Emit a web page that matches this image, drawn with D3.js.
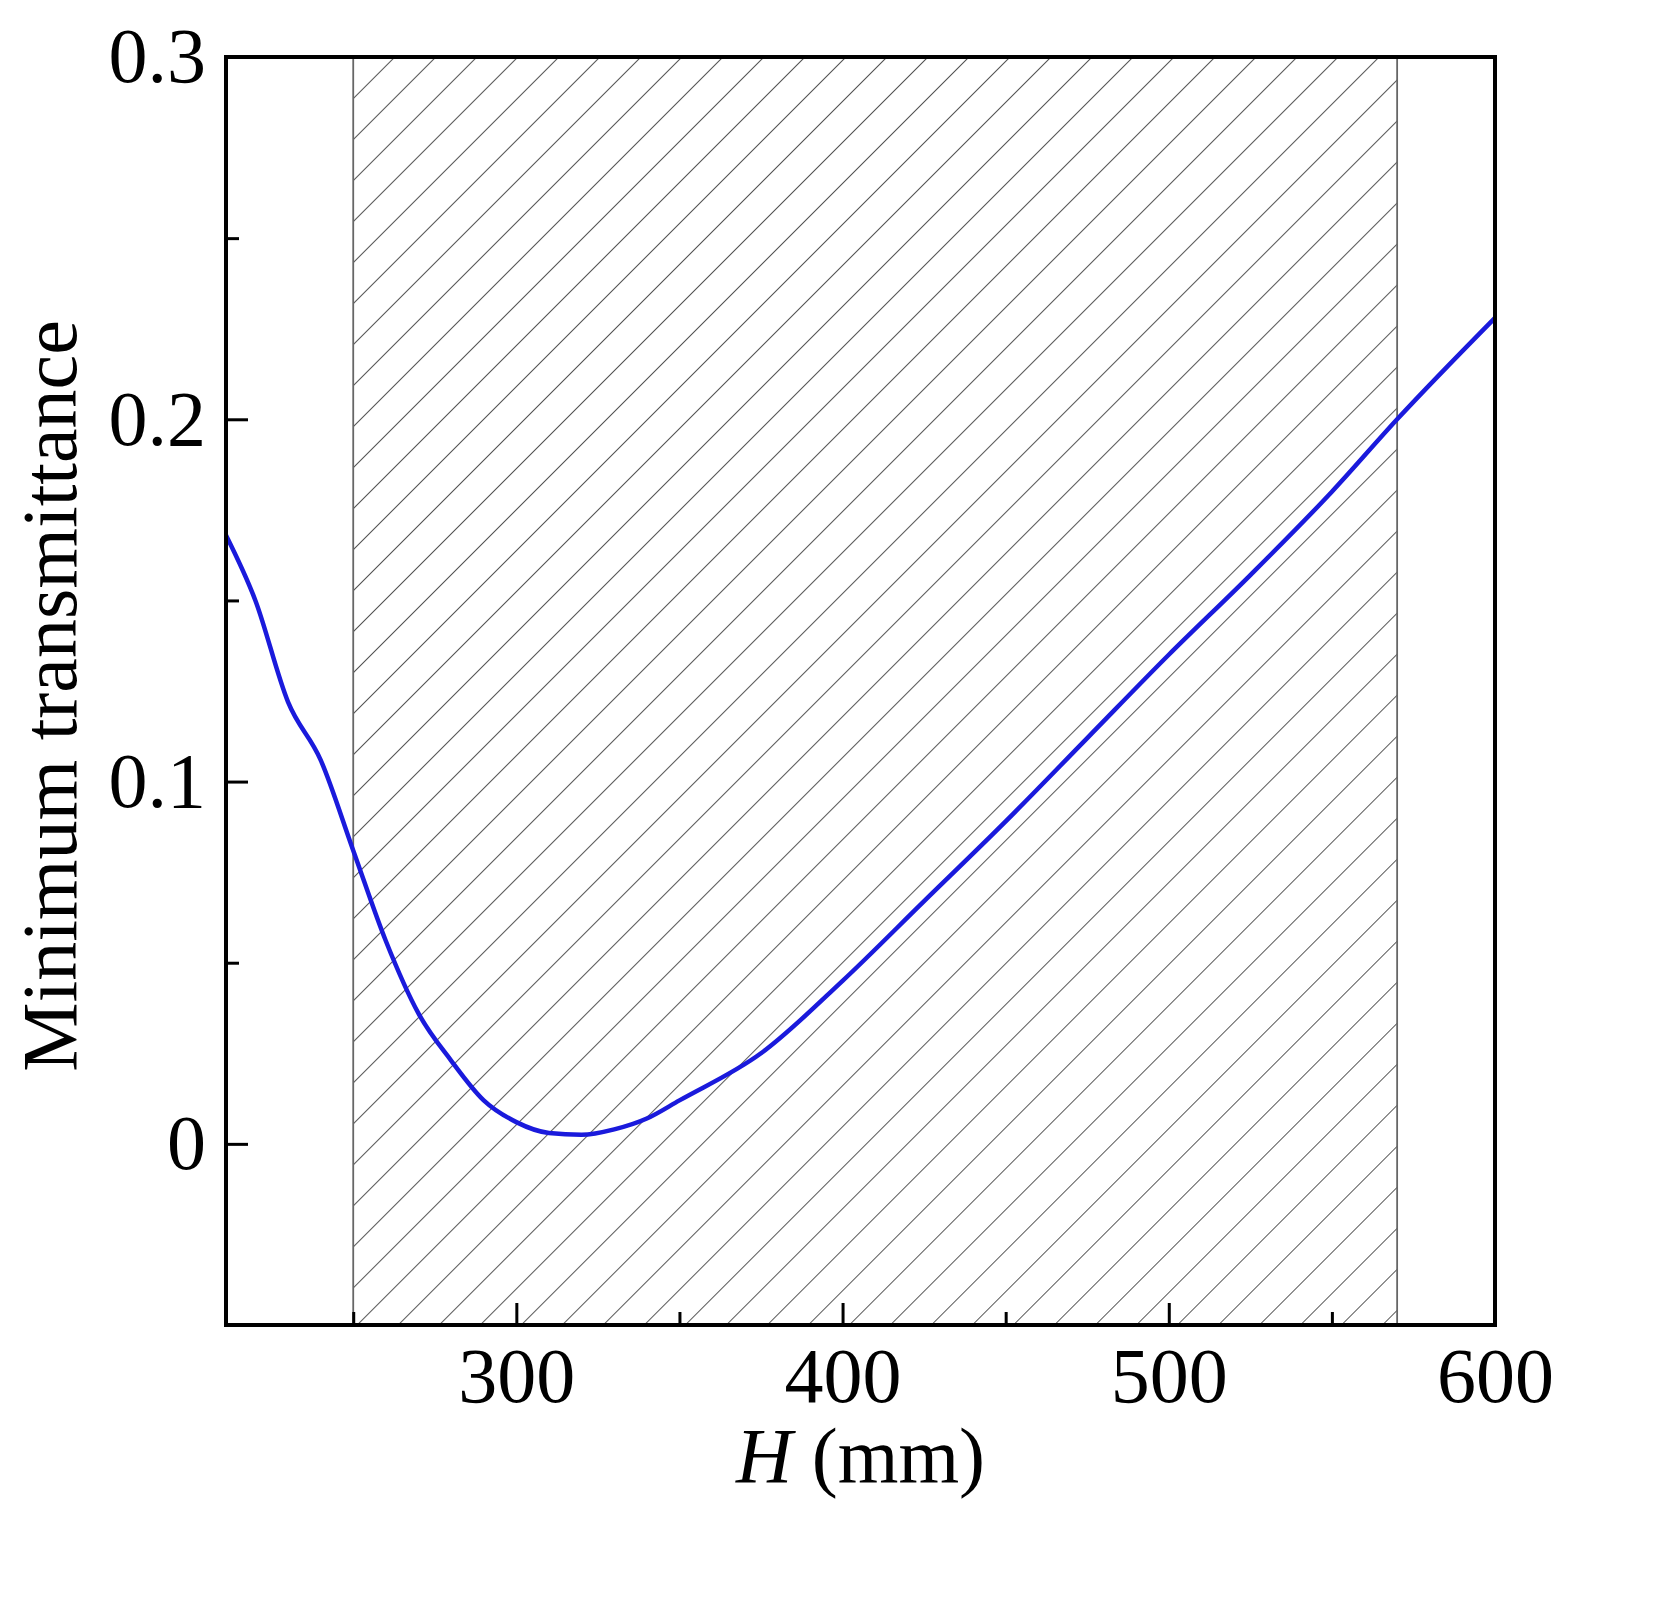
<!DOCTYPE html>
<html><head><meta charset="utf-8">
<script src="https://cdn.jsdelivr.net/npm/d3@7"></script>
<style>body{margin:0;background:#fff}</style></head>
<body><svg id="c" width="1662" height="1608"></svg>
<script>
const hVals=[211,220,230,240,250,260,270,280,290,300,310,320,330,340,350,375,400,425,450,475,500,525,550,570,600];
const tVals=[0.168,0.150,0.122,0.106,0.081,0.056,0.036,0.023,0.012,0.006,0.003,0.0025,0.004,0.007,0.012,0.025,0.045,0.067,0.089,0.112,0.135,0.157,0.180,0.200,0.228];
const bandRange=[250,570];
const xTicks=[300,400,500,600], xMinor=[250,350,450,550];
const yTicks=[0,0.1,0.2,0.3], yMinor=[0.05,0.15,0.25];

const svg=d3.select("#c");
const L=226,R=1495,T=57,B=1325;
const x=d3.scaleLinear().domain([211,600]).range([L,R]);
const y=d3.scaleLinear().domain([-0.05,0.3]).range([B,T]);
const font="Liberation Serif, Times New Roman, serif";

const defs=svg.append("defs");
const p=defs.append("pattern").attr("id","hatch").attr("patternUnits","userSpaceOnUse")
 .attr("width",29).attr("height",29).attr("patternTransform","rotate(45)");
p.append("line").attr("x1",0).attr("y1",0).attr("x2",0).attr("y2",29).attr("stroke","#444").attr("stroke-width",1.8);

svg.append("rect").attr("x",x(bandRange[0])).attr("y",T).attr("width",x(bandRange[1])-x(bandRange[0])).attr("height",B-T).attr("fill","url(#hatch)");
bandRange.forEach(v=>svg.append("line").attr("x1",x(v)).attr("x2",x(v)).attr("y1",T).attr("y2",B).attr("stroke","#666").attr("stroke-width",1.8));

svg.append("path").datum(hVals.map((h,i)=>[h,tVals[i]]))
 .attr("d",d3.line().x(d=>x(d[0])).y(d=>y(d[1])).curve(d3.curveMonotoneX))
 .attr("fill","none").attr("stroke","#1a1adc").attr("stroke-width",4.5);

svg.append("rect").attr("x",L).attr("y",T).attr("width",R-L).attr("height",B-T).attr("fill","none").attr("stroke","#000").attr("stroke-width",4);

const xa=svg.append("g").attr("transform",`translate(0,${B})`).call(d3.axisBottom(x).tickValues(xTicks).tickSize(-22).tickPadding(22).tickFormat(d3.format("d")));
const xm=svg.append("g").attr("transform",`translate(0,${B})`).call(d3.axisBottom(x).tickValues(xMinor).tickSize(-13).tickFormat(""));
const ya=svg.append("g").attr("transform",`translate(${L},0)`).call(d3.axisLeft(y).tickValues(yTicks).tickSize(-22).tickPadding(20).tickFormat(d=>d===0?"0":d3.format(".1f")(d)));
const ym=svg.append("g").attr("transform",`translate(${L},0)`).call(d3.axisLeft(y).tickValues(yMinor).tickSize(-13).tickFormat(""));
[xa,xm,ya,ym].forEach(g=>{g.select(".domain").remove();g.selectAll("line").attr("stroke","#000").attr("stroke-width",3);
 g.selectAll("text").attr("font-family",font).attr("font-size",78).attr("fill","#000");});

svg.append("text").attr("x",(L+R)/2).attr("y",1482).attr("text-anchor","middle").attr("font-family",font).attr("font-size",78)
 .html('<tspan font-style="italic">H</tspan> (mm)');
svg.append("text").attr("transform",`translate(76,${(T+B)/2+5}) rotate(-90)`).attr("text-anchor","middle").attr("font-family",font).attr("font-size",78).text("Minimum transmittance");
</script></body></html>
